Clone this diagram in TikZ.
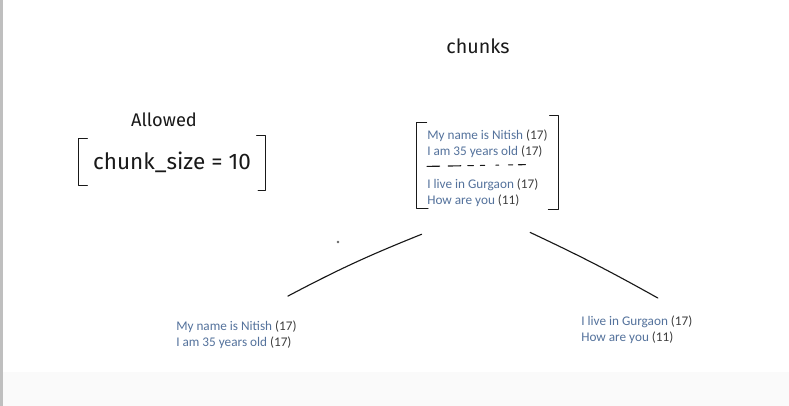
\documentclass[tikz,border=0pt]{standalone}
\usepackage{fontspec}
\setmainfont{Carlito}
\newfontfamily\hand{Fira Sans}
\usetikzlibrary{fit}

\definecolor{slideblue}{RGB}{84,114,156}
\definecolor{numgray}{RGB}{62,62,62}
\definecolor{ink}{RGB}{25,25,25}

\newcommand{\sent}[2]{\textcolor{slideblue}{#1} \textcolor{numgray}{(#2)}}

\tikzset{
  chunktext/.style={inner sep=0pt,align=left,font=\fontsize{9.4}{11.4}\selectfont},
  handtext/.style={text=ink,inner sep=0pt},
  pen/.style={draw=ink,line width=0.8pt,line cap=round,line join=round}
}

\begin{document}
\begin{tikzpicture}[x=0.025cm,y=-0.025cm]
\useasboundingbox (0,0) rectangle (789,406);
\fill[white] (0,0) rectangle (789,406);
\fill[black!2] (0,372) rectangle (789,406);
\fill[black!25] (0,0) rectangle (3,406);

\node[handtext,font=\hand\fontsize{14}{17}\selectfont] at (478,46) (title) {chunks};
\node[handtext,font=\hand\fontsize{13}{16}\selectfont] at (164,120) (allowed) {Allowed};
\node[handtext,font=\hand\fontsize{16}{19}\selectfont,inner xsep=10pt,inner ysep=9pt] at (172,162) (limit) {chunk\_size = 10};
\draw[pen] ([xshift=6pt]limit.north west) -- (limit.north west) -- (limit.south west) -- ([xshift=6pt]limit.south west);
\draw[pen] ([xshift=-6pt,yshift=2pt]limit.north east) -- ([yshift=2pt]limit.north east) -- ([yshift=-4pt]limit.south east) -- ([xshift=-5pt,yshift=-4pt]limit.south east);

% the chunk group
\node[chunktext,anchor=north west] at (427,130) (g1) {\sent{My name is Nitish}{17}\\ \sent{I am 35 years old}{17}};
\node[chunktext,anchor=north west] at (427,179) (g2) {\sent{I live in Gurgaon}{17}\\ \sent{How are you}{11}};
\node[inner xsep=0.25cm,inner ysep=0.12cm,fit=(g1)(g2)] (grp) {};
\draw[pen] ([xshift=7pt,yshift=2pt]grp.north west) -- ([yshift=2pt]grp.north west) -- ([yshift=3pt]grp.south west) -- ([xshift=8pt,yshift=3pt]grp.south west);
\draw[pen] ([xshift=-6pt,yshift=7pt]grp.north east) -- ([yshift=7pt]grp.north east) -- ([yshift=2pt]grp.south east) -- ([xshift=-7pt,yshift=2pt]grp.south east);
\draw[pen,dash pattern=on 9pt off 6pt on 9pt off 5pt on 4pt off 5pt on 3pt off 8pt on 2pt off 7pt on 3pt off 4pt on 5pt]
  ([yshift=-5.7pt]g1.south west) -- ([xshift=-8.5pt,yshift=-4.3pt]g1.south east);

\node[chunktext,anchor=north west] at (176,321) (left) {\sent{My name is Nitish}{17}\\ \sent{I am 35 years old}{17}};
\node[chunktext,anchor=north west] at (581,316) (right) {\sent{I live in Gurgaon}{17}\\ \sent{How are you}{11}};

\draw[pen] ([xshift=3.5pt,yshift=-15.5pt]grp.south west) to[bend right=3] ([xshift=-6.4pt,yshift=17.7pt]left.north east);
\draw[pen] ([xshift=-19.9pt,yshift=-14.2pt]grp.south east) to[bend left=2] ([xshift=14.9pt,yshift=12.8pt]right.north);
\fill[black!60] (338,242) circle (1pt);
\end{tikzpicture}
\end{document}
